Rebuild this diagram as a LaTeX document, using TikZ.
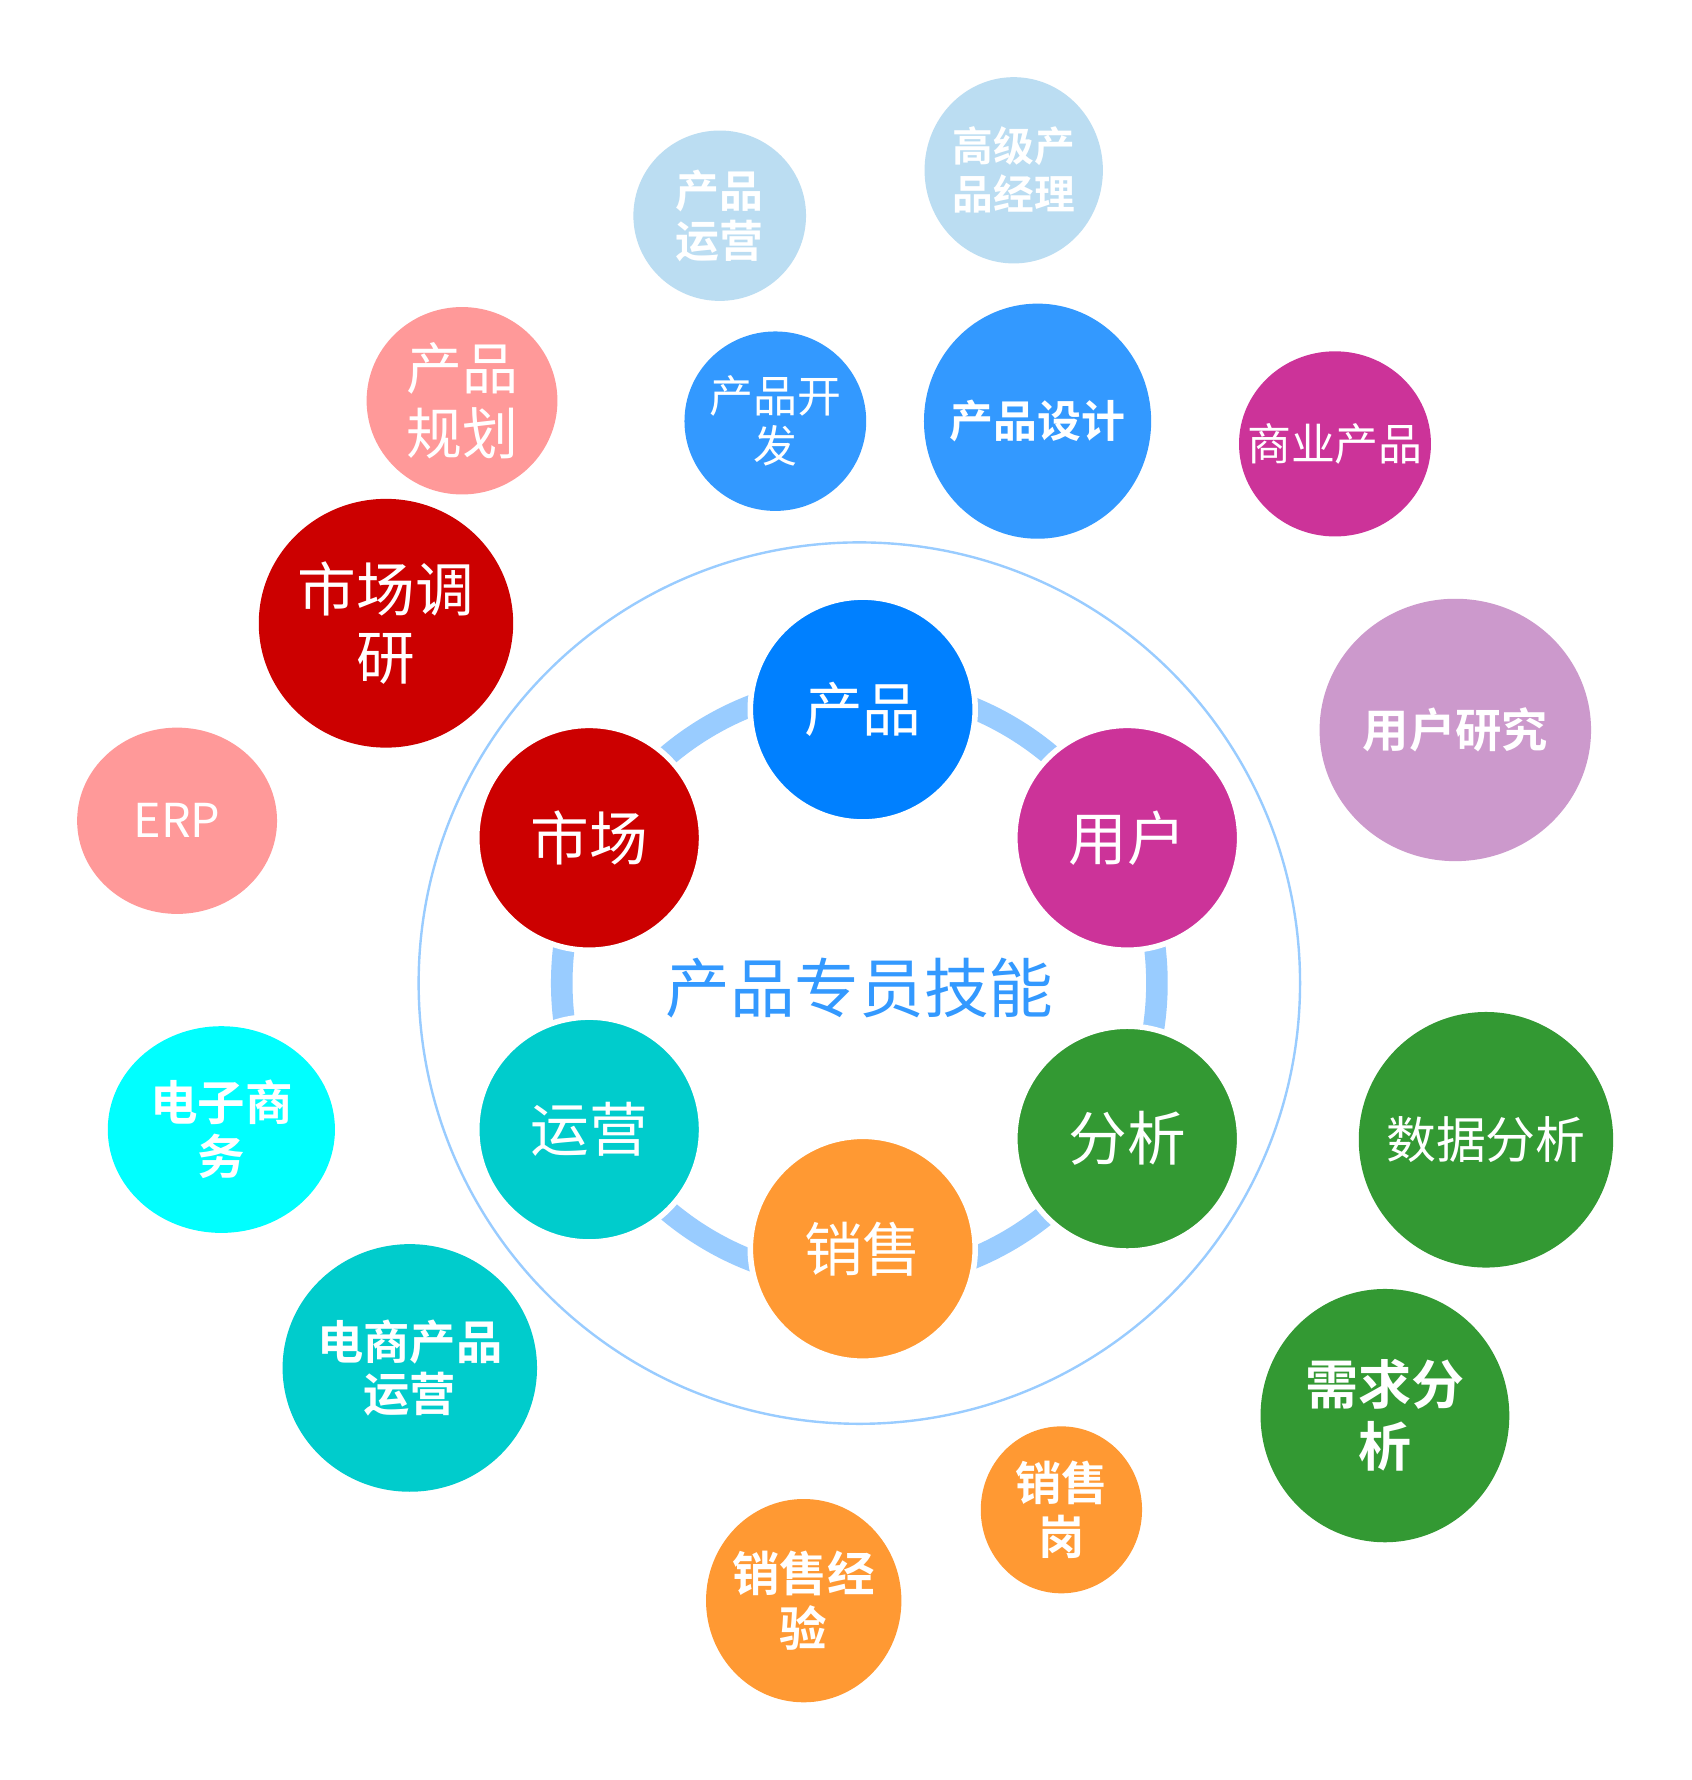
\documentclass[tikz,border=0pt]{standalone}
\usepackage{fontspec}
\usetikzlibrary{shapes.geometric}
\newfontfamily\cjk{Noto Sans CJK SC}[BoldFont={Noto Sans CJK SC Bold}]
\definecolor{paleblue}{HTML}{BBDDF2}
\definecolor{rosepink}{HTML}{FF9999}
\definecolor{midblue}{HTML}{3399FF}
\definecolor{deepblue}{HTML}{0080FF}
\definecolor{plum}{HTML}{CC3399}
\definecolor{crimson}{HTML}{CC0000}
\definecolor{lilac}{HTML}{CC99CC}
\definecolor{aqua}{HTML}{00FFFF}
\definecolor{teal}{HTML}{00CCCC}
\definecolor{leaf}{HTML}{339933}
\definecolor{amber}{HTML}{FF9933}
\definecolor{ringblue}{HTML}{99CCFF}
\newcommand{\bubblefont}[2]{\cjk\fontsize{#1}{#2}\selectfont}
\tikzset{
  bubble/.style={ellipse,inner sep=-0.6cm,text=white,align=center},
  size/.style 2 args={minimum width=#1cm,minimum height=#2cm},
  core/.style={bubble,size={1.98}{1.98},draw=white,line width=1.4pt,
    font=\bubblefont{14.7pt}{17pt}},
  ring/.style={ringblue,line width=0.19cm},
  outline/.style={ringblue,line width=0.6pt}
}

\begin{document}
\begin{tikzpicture}[x=0.01cm,y=-0.01cm]
  \fill[white] (0,0) rectangle (1490,1568);
  \coordinate (hub) at (757,866);
  \draw[outline] (hub) circle[radius=3.88cm];
  \draw[ring] (hub) circle[radius=2.62cm];

  % core skills
  \node[core,fill=deepblue] (prod) at (760,625) {产品};
  \node[core,fill=plum]     (user) at (993,738) {用户};
  \node[core,fill=leaf]     (anal) at (993,1003) {分析};
  \node[core,fill=amber]    (sale) at (760,1100) {销售};
  \node[core,fill=teal]     (oper) at (519,995) {运营};
  \node[core,fill=crimson]  (mark) at (519,738) {市场};
  \node[font=\bubblefont{16.2pt}{19pt},text=midblue] (title) at (757,870) {产品专员技能};

  % outer bubbles
  \node[bubble,fill=paleblue,size={1.52}{1.50},font=\bubblefont{11pt}{12.6pt}\bfseries] (pops) at (634,190) {产品\\运营};
  \node[bubble,fill=paleblue,size={1.57}{1.64},font=\bubblefont{10.2pt}{12pt}\bfseries] (senior) at (893,150) {高级产\\品经理};
  \node[bubble,fill=rosepink,size={1.68}{1.65},font=\bubblefont{14pt}{16.5pt}] (plan) at (407,353) {产品\\规划};
  \node[bubble,fill=midblue,size={1.60}{1.58},font=\bubblefont{11pt}{12.6pt}] (dev) at (683,371) {产品开\\发};
  \node[bubble,fill=midblue,size={2.00}{2.07},font=\bubblefont{11pt}{13pt}\bfseries] (design) at (914,371) {产品设计};
  \node[bubble,fill=plum,size={1.69}{1.63},font=\bubblefont{11pt}{13pt}] (biz) at (1176,391) {商业产品};
  \node[bubble,fill=crimson,size={2.24}{2.19},font=\bubblefont{14.7pt}{17pt}] (survey) at (340,549) {市场调\\研};
  \node[bubble,fill=lilac,size={2.39}{2.31},font=\bubblefont{11.6pt}{13pt}\bfseries] (ures) at (1282,643) {用户研究};
  \node[bubble,fill=rosepink,size={1.76}{1.64},font=\bubblefont{11.7pt}{13pt}] (erp) at (156,723) {ERP};
  \node[bubble,fill=aqua,size={2.00}{1.82},font=\bubblefont{11.9pt}{13.6pt}\bfseries] (ecom) at (195,995) {电子商\\务};
  \node[bubble,fill=leaf,size={2.24}{2.25},font=\bubblefont{12.5pt}{14pt}] (data) at (1309,1004) {数据分析};
  \node[bubble,fill=teal,size={2.24}{2.18},font=\bubblefont{11.6pt}{13.2pt}\bfseries] (eops) at (361,1205) {电商产品\\运营};
  \node[bubble,fill=leaf,size={2.19}{2.23},font=\bubblefont{13.3pt}{15.5pt}\bfseries] (req) at (1220,1247) {需求分\\析};
  \node[bubble,fill=amber,size={1.42}{1.47},font=\bubblefont{11.6pt}{13.4pt}\bfseries] (post) at (935,1330) {销售\\岗};
  \node[bubble,fill=amber,size={1.72}{1.79},font=\bubblefont{11.9pt}{13.6pt}\bfseries] (exp) at (708,1410) {销售经\\验};
\end{tikzpicture}
\end{document}
